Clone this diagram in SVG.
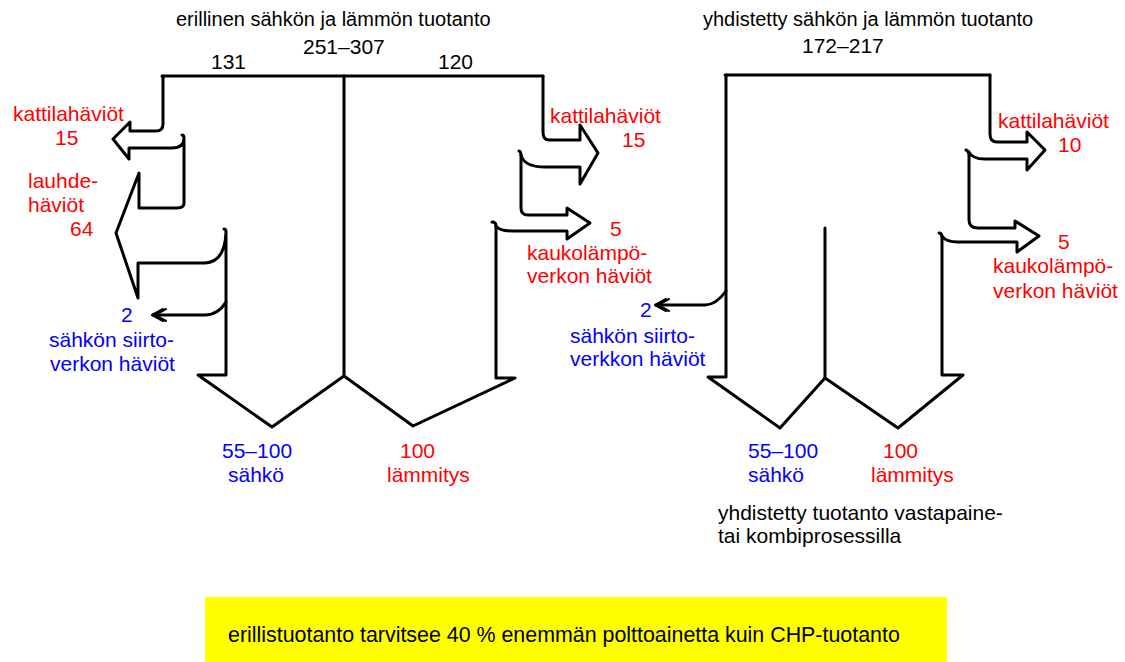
<svg xmlns="http://www.w3.org/2000/svg" width="1125" height="662" viewBox="0 0 1125 662">
<style>
text{font-family:"Liberation Sans",Arial,sans-serif;font-size:21px}
.k{fill:#000}
.r{fill:#ff0000}
.b{fill:#0000ff}
.t{font-size:20px}
.s{font-size:21.4px}
.ln{fill:none;stroke:#000;stroke-width:3;stroke-linejoin:round;stroke-linecap:round}
.th{stroke-width:2}
</style>
<rect x="205" y="597" width="742" height="65" fill="#ffff00"/>
<g id="connectors">
<!-- left diagram -->
<path class="ln" d="M162,76 H543"/>
<path class="ln" d="M344,76 V376"/>
<path class="ln" d="M163,76 V124 Q163,131 156,131 H130 V122 L113,139 L129,159 V148 H172 Q184,148 184,138 Q184,135 182,135 M184,138 V203 Q184,208 177,208 H139 V173 L116,233 L138,298 V263 H205 Q225,262 226,232 Q226,229 224,229 M226,231 V375 H198 L272,427 L344,376 L413,426 L515,378 H496 V226 Q496,222 492,222"/>
<path class="ln" d="M496,226 Q499,231 512,231 H567 V239 L590,223 L567,208 V215 H528 Q521,215 521,208 V156 Q521,151 519,151"/>
<path class="ln" d="M521,155 Q524,167 545,167 H580 V184 L598,153 L580,125 V140 H549 Q543,140 543,132 V76"/>
<path class="ln" d="M226,302 Q218,315 205,315 H153"/>
<path class="ln th" d="M163,309 L152,315 L163,321 M166,309 L155,315 L166,321"/>
<!-- right diagram -->
<path class="ln" d="M725,75 H990"/>
<path class="ln" d="M825,228 V378"/>
<path class="ln" d="M726,75 V377 H708 L780,428 L825,378 L898,428 L963,375 H942 V237 Q942,233 939,233"/>
<path class="ln" d="M942,236 Q946,242 958,242 H1017 V252 L1039,236 L1015,221 V228 H978 Q969,228 969,220 V155 Q969,151 966,150"/>
<path class="ln" d="M969,152 Q972,159 985,159 H1027 V170 L1045,150 L1027,132 V142 H997 Q990,142 990,134 V75"/>
<path class="ln" d="M726,291 Q716,305 705,305 H656"/>
<path class="ln th" d="M666,299 L655,305 L666,311 M669,299 L658,305 L669,311"/>
</g>
<g id="left-title">
<text class="k t" x="176" y="26">erillinen sähkön ja lämmön tuotanto</text>
<text class="k" x="303" y="54">251–307</text>
<text class="k" x="211" y="69">131</text>
<text class="k" x="438" y="69">120</text>
</g>
<g id="left-kattila">
<text class="r" x="13" y="121">kattilahäviöt</text>
<text class="r" x="55" y="145">15</text>
</g>
<g id="left-lauhde">
<text class="r" x="28" y="188">lauhde-</text>
<text class="r" x="28" y="212">häviöt</text>
<text class="r" x="70" y="236">64</text>
</g>
<g id="left-siirto">
<text class="b" x="121" y="322">2</text>
<text class="b" x="49" y="347">sähkön siirto-</text>
<text class="b" x="50" y="371">verkon häviöt</text>
</g>
<g id="left-kattila2">
<text class="r" x="550" y="123">kattilahäviöt</text>
<text class="r" x="622" y="147">15</text>
</g>
<g id="left-kaukolampo">
<text class="r" x="610" y="236">5</text>
<text class="r" x="527" y="260">kaukolämpö-</text>
<text class="r" x="527" y="283">verkon häviöt</text>
</g>
<g id="left-sahko">
<text class="b" x="222" y="458">55–100</text>
<text class="b" x="228" y="482">sähkö</text>
</g>
<g id="left-lammitys">
<text class="r" x="400" y="458">100</text>
<text class="r" x="387" y="482">lämmitys</text>
</g>
<g id="right-title">
<text class="k t" x="703" y="26">yhdistetty sähkön ja lämmön tuotanto</text>
<text class="k" x="802" y="53">172–217</text>
</g>
<g id="right-kattila">
<text class="r" x="998" y="128">kattilahäviöt</text>
<text class="r" x="1058" y="152">10</text>
</g>
<g id="right-kaukolampo">
<text class="r" x="1058" y="249">5</text>
<text class="r" x="993" y="273">kaukolämpö-</text>
<text class="r" x="993" y="298">verkon häviöt</text>
</g>
<g id="right-siirto">
<text class="b" x="640" y="317">2</text>
<text class="b" x="570" y="343">sähkön siirto-</text>
<text class="b" x="570" y="366">verkkon häviöt</text>
</g>
<g id="right-sahko">
<text class="b" x="748" y="458">55–100</text>
<text class="b" x="748" y="482">sähkö</text>
</g>
<g id="right-lammitys">
<text class="r" x="883" y="458">100</text>
<text class="r" x="871" y="482">lämmitys</text>
</g>
<g id="right-note">
<text class="k" x="718" y="520">yhdistetty tuotanto vastapaine-</text>
<text class="k" x="718" y="543">tai kombiprosessilla</text>
</g>
<g id="summary">
<text class="k s" x="228" y="642">erillistuotanto tarvitsee 40 % enemmän polttoainetta kuin CHP-tuotanto</text>
</g>
</svg>
